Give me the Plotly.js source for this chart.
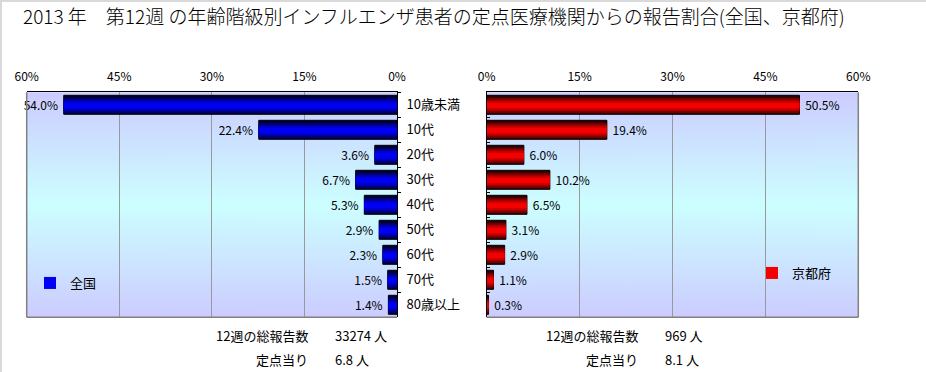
<!DOCTYPE html>
<html>
<head>
<meta charset="utf-8">
<script src="https://cdn.plot.ly/plotly-3.0.1.min.js"></script>
<style>
html,body{margin:0;padding:0;background:#fff;}
#chart{width:926px;height:372px;}
</style>
</head>
<body>
<div id="chart"></div>
<script>
// ---- data ----
const reportYear = 2013;
const weekNo = 12;
const categories = ['10歳未満','10代','20代','30代','40代','50代','60代','70代','80歳以上'];
const nationalPct = [54.0, 22.4, 3.6, 6.7, 5.3, 2.9, 2.3, 1.5, 1.4];
const kyotoPct = [50.5, 19.4, 6.0, 10.2, 6.5, 3.1, 2.9, 1.1, 0.3];
const seriesNames = ['全国', '京都府'];
const totalReports = [33274, 969];
const perSentinel = [6.8, 8.1];
const xTickVals = [0, 15, 30, 45, 60];

// ---- styling helpers ----
const FONT = '"Noto Sans CJK JP", "Noto Sans", sans-serif';
const W = 926, H = 372;

function gradientImage() {
  const c = document.createElement('canvas');
  c.width = 4; c.height = 256;
  const g = c.getContext('2d');
  const lg = g.createLinearGradient(0, 0, 0, 256);
  lg.addColorStop(0, '#ccccff');
  lg.addColorStop(0.5, '#ccffff');
  lg.addColorStop(1, '#ccccff');
  g.fillStyle = lg;
  g.fillRect(0, 0, 4, 256);
  return c.toDataURL('image/png');
}

const blueShades = ['#000030', '#00006a', '#0000a0', '#0000d0', '#0000f4'];
const redShades = ['#300000', '#6a0000', '#a00000', '#d00000', '#f40000'];
const widths = [0.76, 0.62, 0.48, 0.34, 0.2];

function layeredBars(values, shades, name, xa, ya, legendId) {
  const traces = [];
  widths.forEach((w, i) => {
    const shift = i === 0 ? 0 : 0.03;
    const t = {
      type: 'bar', orientation: 'h',
      x: values, y: categories,
      xaxis: xa, yaxis: ya,
      width: w, offset: -w / 2 + shift,
      marker: {color: shades[i], line: {color: '#000000', width: i === 0 ? 1 : 0}},
      hoverinfo: 'skip',
      showlegend: i === widths.length - 1,
      name: name,
      legend: legendId,
      cliponaxis: false
    };
    if (i === 0) {
      t.texttemplate = ' %{x:.1f}% ';
      t.textposition = 'outside';
      t.textfont = {family: FONT, size: 12, color: '#000'};
      t.constraintext = 'none';
      t.hoverinfo = 'x+y';
    }
    traces.push(t);
  });
  return traces;
}

const data = [].concat(
  layeredBars(nationalPct, blueShades, seriesNames[0], 'x', 'y', 'legend'),
  layeredBars(kyotoPct, redShades, seriesNames[1], 'x2', 'y2', 'legend2')
);

const leftDom = [26.7 / W, 397 / W];
const rightDom = [486.7 / W, 858.3 / W];
const yDom = [1 - 317.3 / H, 1 - 92.3 / H];

const xCommon = {
  side: 'top', tickvals: xTickVals, ticktext: xTickVals.map(v => v + '%'),
  showgrid: true, gridcolor: '#999999', gridwidth: 1,
  zeroline: false, showline: true, linecolor: '#000000', linewidth: 1,
  ticks: '', ticklabelstandoff: 6,
  tickfont: {family: FONT, size: 12, color: '#000'}, fixedrange: true
};
const yCommon = {
  type: 'category', categoryorder: 'array', categoryarray: categories,
  autorange: 'reversed', showgrid: false, zeroline: false,
  showline: true, linecolor: '#000000', linewidth: 1,
  tickson: 'boundaries', ticklen: 3, tickcolor: '#000000',
  tickfont: {family: FONT, size: 13, color: '#000'}, fixedrange: true
};

const img = gradientImage();

const annos = [];
const annoRows = [
  {label: weekNo + '週の総報告数', vals: totalReports.map(v => v + ' 人'), y: 335},
  {label: '定点当り', vals: perSentinel.map(v => v.toFixed(1) + ' 人'), y: 359}
];
const labelRight = [310, 640];
const valueLeft = [333, 663];
annoRows.forEach(r => {
  [0, 1].forEach(k => {
    annos.push({xref: 'paper', yref: 'paper', x: labelRight[k] / W, y: 1 - r.y / H,
      xanchor: 'right', yanchor: 'middle', text: r.label, showarrow: false,
      font: {family: FONT, size: 13, color: '#000'}});
    annos.push({xref: 'paper', yref: 'paper', x: valueLeft[k] / W, y: 1 - r.y / H,
      xanchor: 'left', yanchor: 'middle', text: r.vals[k], showarrow: false,
      font: {family: FONT, size: 13, color: '#000'}});
  });
});

const grayEdge = {color: '#808080', width: 1.5};
const layout = {
  width: W, height: H,
  margin: {l: 0, r: 0, t: 0, b: 0},
  paper_bgcolor: '#ffffff', plot_bgcolor: 'rgba(0,0,0,0)',
  font: {family: FONT, size: 12, color: '#000'},
  barmode: 'overlay',
  title: {
    text: reportYear + ' 年　第' + weekNo + '週 の年齢階級別インフルエンザ患者の定点医療機関からの報告割合(全国、京都府)',
    font: {family: FONT, size: 19, color: '#000', weight: 300},
    x: 23 / W, xanchor: 'left', xref: 'paper',
    y: 1 - 17 / H, yanchor: 'middle', yref: 'paper'
  },
  xaxis: Object.assign({}, xCommon, {domain: leftDom, range: [60, 0], anchor: 'y'}),
  xaxis2: Object.assign({}, xCommon, {domain: rightDom, range: [0, 60], anchor: 'y2'}),
  yaxis: Object.assign({}, yCommon, {domain: yDom, anchor: 'x', side: 'right', ticks: 'outside', ticklabelstandoff: 6}),
  yaxis2: Object.assign({}, yCommon, {domain: yDom, anchor: 'x2', side: 'left', ticks: 'inside', showticklabels: false}),
  legend: {
    x: 30 / W, y: 1 - 268 / H, xanchor: 'left', yanchor: 'top',
    bgcolor: 'rgba(0,0,0,0)', font: {family: FONT, size: 13, color: '#000'}
  },
  legend2: {
    x: 752 / W, y: 1 - 258 / H, xanchor: 'left', yanchor: 'top',
    bgcolor: 'rgba(0,0,0,0)', font: {family: FONT, size: 13, color: '#000'}
  },
  images: [
    {source: img, xref: 'x domain', yref: 'y domain', x: 0, y: 1, sizex: 1, sizey: 1,
     sizing: 'stretch', xanchor: 'left', yanchor: 'top', layer: 'below'},
    {source: img, xref: 'x2 domain', yref: 'y2 domain', x: 0, y: 1, sizex: 1, sizey: 1,
     sizing: 'stretch', xanchor: 'left', yanchor: 'top', layer: 'below'}
  ],
  shapes: [
    {type: 'line', xref: 'x domain', yref: 'y domain', x0: 0, x1: 1, y0: 0, y1: 0, line: grayEdge},
    {type: 'line', xref: 'x domain', yref: 'y domain', x0: 0, x1: 0, y0: 0, y1: 1, line: grayEdge},
    {type: 'line', xref: 'x2 domain', yref: 'y2 domain', x0: 0, x1: 1, y0: 0, y1: 0, line: grayEdge},
    {type: 'line', xref: 'x2 domain', yref: 'y2 domain', x0: 1, x1: 1, y0: 0, y1: 1, line: grayEdge},
    {type: 'line', xref: 'paper', yref: 'paper', x0: 0, x1: 1, y0: 1 - 1 / H, y1: 1 - 1 / H, line: {color: '#d9d9d9', width: 2}},
    {type: 'line', xref: 'paper', yref: 'paper', x0: 1 / W, x1: 1 / W, y0: 0, y1: 1, line: {color: '#d9d9d9', width: 2}}
  ],
  annotations: annos
};

Plotly.newPlot('chart', data, layout, {displayModeBar: false, staticPlot: true});
</script>
</body>
</html>
